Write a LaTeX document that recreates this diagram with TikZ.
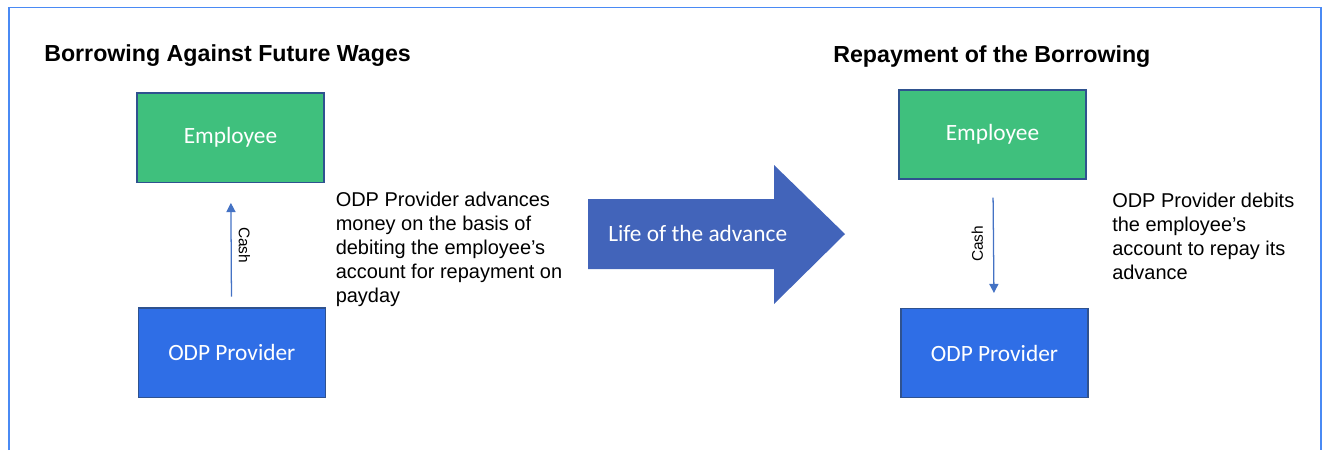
\documentclass[tikz,border=0pt]{standalone}
\usepackage{fontspec}
\setmainfont{Liberation Sans}
\newfontfamily\boxfont{Carlito}
\usepackage{xcolor}
\usepackage{tikz}
\usetikzlibrary{arrows.meta,positioning}
\definecolor{empgreen}{HTML}{3FC07D}
\definecolor{odpblue}{HTML}{2F6EE6}
\definecolor{boxedge}{HTML}{2F528F}
\definecolor{cashblue}{HTML}{4472C4}
\definecolor{lifeblue}{HTML}{4264BA}
\definecolor{framblue}{HTML}{4A8AF4}

\begin{document}
\begin{tikzpicture}[x=0.025cm, y=-0.025cm,
    party/.style={draw=boxedge, line width=1pt, minimum width=4.675cm, minimum height=2.225cm,
      text=white, font=\boxfont\fontsize{16.6}{20}\selectfont},
    heading/.style={anchor=base west, inner sep=0, font=\bfseries\fontsize{16.5}{20}\selectfont},
    note/.style={anchor=north west, inner sep=0, align=left, font=\fontsize{14.2}{17.1}\selectfont},
    cashflow/.style={draw=cashblue, line width=0.9pt, -{Triangle[width=6.5pt,length=6.5pt]}},
    cashlabel/.style={midway, anchor=south, inner sep=5pt, font=\fontsize{11}{13}\selectfont}]
  \useasboundingbox (0,0) rectangle (1322,450);
  % outer frame, open at the bottom
  \draw[framblue, line width=1.4pt] (9,450) -- (9,7.5) -- (1321,7.5) -- (1321,450);

  % borrowing side
  \node[heading] (titleL) at (44,61) {Borrowing Against Future Wages};
  \node[party, fill=empgreen] (empL) at (230.5,137.7) {Employee};
  \node[party, fill=odpblue] (odpL) at (231.8,352.7) {ODP Provider};
  \draw[cashflow, shorten <=0.27cm, shorten >=0.5cm] (odpL) -- (empL)
    node[cashlabel, rotate=-90] (cashL) {Cash};
  \node[note] (noteL) at (335.5,192) {ODP Provider advances\\money on the basis of\\debiting the employee's\\account for repayment on\\payday};

  % life of the advance
  \fill[lifeblue] (588,199) -- (774,199) -- (774,165) -- (845,234) -- (774,304) -- (774,269) -- (588,269) -- cycle;
  \node[anchor=west, inner sep=0, text=white, font=\boxfont\fontsize{16.6}{20}\selectfont] (life) at (608,233) {Life of the advance};

  % repayment side
  \node[heading] (titleR) at (833,62) {Repayment of the Borrowing};
  \node[party, fill=empgreen] (empR) at (992.5,134.5) {Employee};
  \node[party, fill=odpblue] (odpR) at (994.5,353) {ODP Provider};
  \draw[cashflow, shorten <=0.45cm, shorten >=0.37cm] (empR) -- (odpR)
    node[cashlabel, rotate=90, inner sep=7pt] (cashR) {Cash};
  \node[note] (noteR) at (1112,193) {ODP Provider debits\\the employee's\\account to repay its\\advance};
\end{tikzpicture}
\end{document}
